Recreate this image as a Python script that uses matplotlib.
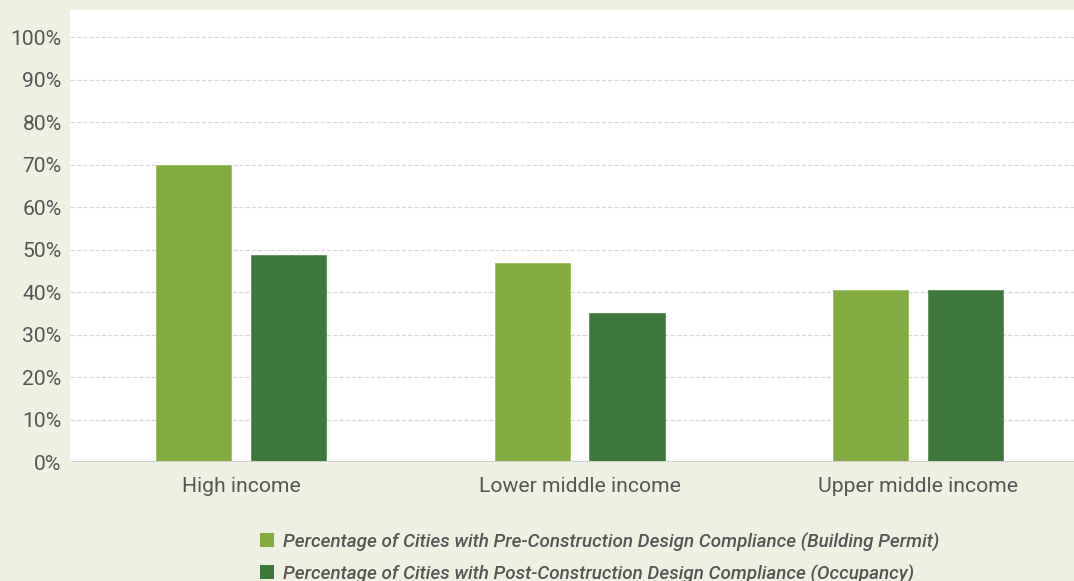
import numpy as np
import matplotlib.pyplot as plt
from matplotlib.patches import Patch

plt.rcParams['font.family'] = ['Roboto', 'DejaVu Sans']

# compliance shares by income group (%)
categories = ['High income', 'Lower middle income', 'Upper middle income']
pre_construction = [70.0, 46.8, 40.5]
post_construction = [48.7, 35.0, 40.5]
series_names = [
    'Percentage of Cities with Pre-Construction Design Compliance (Building Permit)',
    'Percentage of Cities with Post-Construction Design Compliance (Occupancy)',
]
yticks = np.arange(0, 101, 10)

light_green = '#82ac3f'
dark_green = '#3b7839'
text_color = '#555555'

fig = plt.figure(figsize=(10.74, 5.81), dpi=100, facecolor='#eef1e2')
ax = fig.add_axes([70 / 1074, (581 - 462) / 581, 1 - 70 / 1074, (462 - 10) / 581])
ax.set_facecolor('white')

x = np.arange(len(categories))
width = 0.222
offset = 0.14
ax.bar(x - offset, pre_construction, width, color=light_green, zorder=3,
       edgecolor='#9cc063', linewidth=0.6, label=series_names[0])
ax.bar(x + offset, post_construction, width, color=dark_green, zorder=3,
       edgecolor='#5a8f52', linewidth=0.6, label=series_names[1])

ax.set_xlim(-0.505, 2.46)
ax.set_ylim(0, 106.4)
ax.set_xticks(x)
ax.set_xticklabels(categories, fontsize=15.2, color=text_color)
ax.set_yticks(yticks)
ax.set_yticklabels([f'{v}%' for v in yticks], fontsize=15.2, color=text_color)
ax.tick_params(axis='both', length=0)
ax.tick_params(axis='y', pad=6)
ax.tick_params(axis='x', pad=11)

# dashed gridlines, solid grey baseline
for v in yticks[1:]:
    ax.axhline(v, color='#d8d8d8', linestyle=(0, (3.5, 1.5)), linewidth=0.9, zorder=1)
ax.axhline(0, xmin=0.002, color='#d0d0d0', linewidth=2.2, zorder=4)

for side in ['top', 'right', 'left', 'bottom']:
    ax.spines[side].set_visible(False)

handles = [Patch(facecolor=light_green), Patch(facecolor=dark_green)]
fig.legend(handles, series_names, loc='upper left',
           bbox_to_anchor=(243 / 1074, (581 - 515) / 581),
           frameon=False, handlelength=0.75, handleheight=0.75,
           handletextpad=0.5, labelspacing=0.7,
           prop={'style': 'italic', 'weight': 'medium', 'size': 13.55},
           labelcolor=text_color)

fig.savefig('out.png', dpi=100, facecolor=fig.get_facecolor())
